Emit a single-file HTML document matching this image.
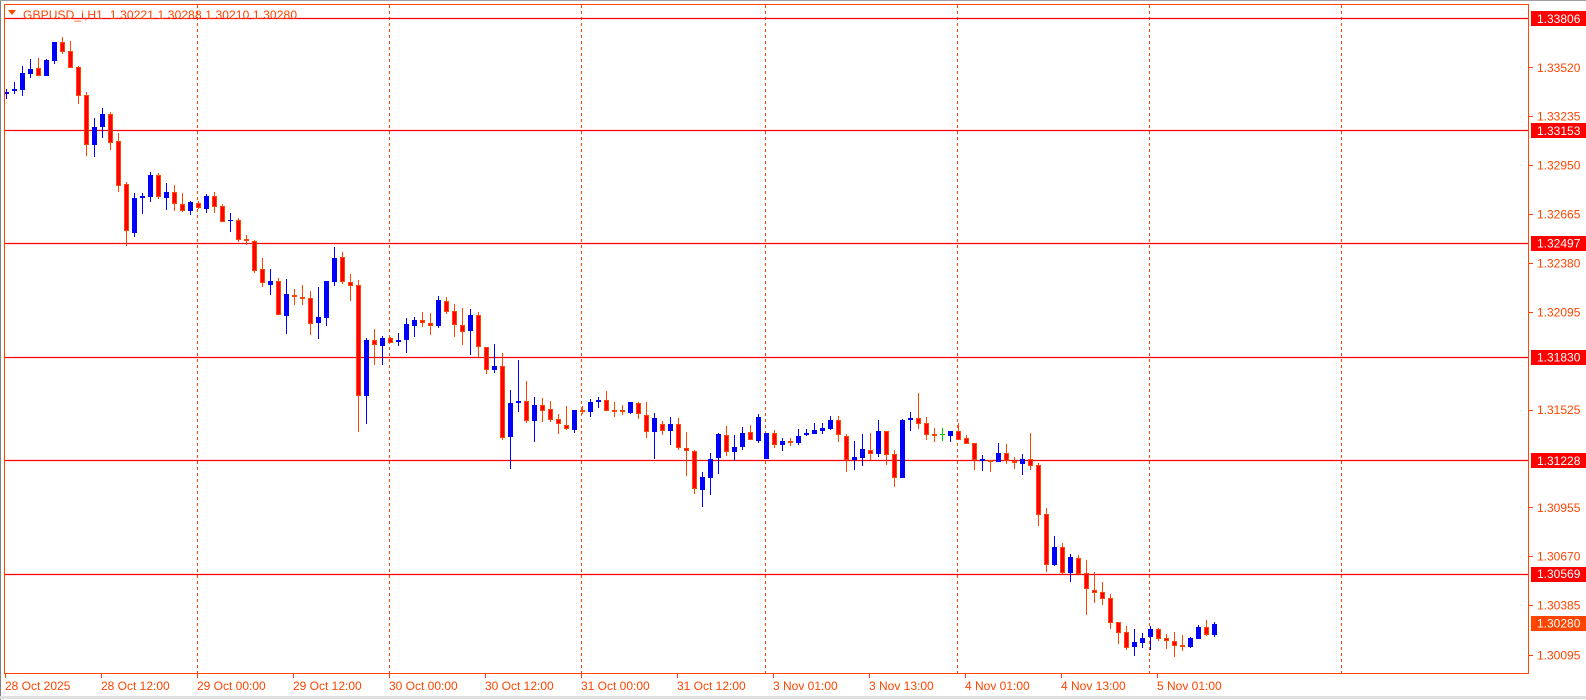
<!DOCTYPE html>
<html><head><meta charset="utf-8">
<style>
html,body{margin:0;padding:0;background:#fff;}
body{width:1586px;height:700px;overflow:hidden;position:relative;font-family:"Liberation Sans",sans-serif;}
svg{position:absolute;left:0;top:0;}
</style></head><body>
<svg id="c" width="1586" height="700" xmlns="http://www.w3.org/2000/svg" font-family="Liberation Sans, sans-serif" font-size="12">
<rect x="0" y="0" width="1586" height="700" fill="#fff"/>
<line x1="0.5" y1="0" x2="0.5" y2="700" stroke="#808080"/>
<line x1="0" y1="697.5" x2="1586" y2="697.5" stroke="#e0e0e0" stroke-width="3"/>
<line x1="0" y1="0.5" x2="1586" y2="0.5" stroke="#a0a0a0"/>
<g id="grid" stroke="#FF4500" stroke-dasharray="3,3" stroke-width="1"></g>
<g id="hl" stroke="#FF0000" stroke-width="1.3"></g>
<g id="cd"></g>
<rect x="4.5" y="4.5" width="1524" height="669" fill="none" stroke="#FF4500" stroke-width="1"/>
<g id="ax" fill="#FF4500"></g>
<polygon points="8,10 16,10 12,15" fill="#FF4500"/>
<text x="23" y="19" fill="#FF4500" font-size="12" textLength="274" style="white-space:pre">GBPUSD_i,H1  1.30221 1.30288 1.30210 1.30280</text>
</svg>
<script>
var NS="http://www.w3.org/2000/svg";
function el(p,t,a,txt){var e=document.createElementNS(NS,t);for(var k in a)e.setAttribute(k,a[k]);if(txt!==undefined)e.textContent=txt;document.getElementById(p).appendChild(e);return e;}
[197,389,581,765,957,1149,1341].forEach(function(x){el('grid','line',{x1:x+.5,y1:5,x2:x+.5,y2:673});});
function Y(p){return 18.3+(1.33806-p)*17152;}
[1.33806,1.33153,1.32497,1.31830,1.31228,1.30569].forEach(function(p){var y=Math.round(Y(p))+.5;el('hl','line',{x1:5,y1:y,x2:1529,y2:y});});
var D=[
['b',92,94,89,99],['b',89,91,82,94],['b',73,90,66,96],['b',69,74,59,78],['r',68,76,58,76],['b',60,76,59,76],['b',42,61,42,64],['r',42,52,37,54],['r',51,68,41,68],['r',67,96,66,104],
['r',95,145,92,156],['b',127,145,118,157],['b',114,127,108,138],['r',114,143,112,150],['r',141,186,133,192],['r',184,231,182,246],['b',198,233,193,237],['b',196,198,193,214],['b',175,197,172,202],['r',175,197,173,199],
['b',192,198,183,210],['r',192,204,185,211],['r',204,211,193,212],['b',202,211,201,215],['r',203,208,201,209],['b',196,209,194,213],['r',196,207,192,213],['r',206,222,204,222],['b',220,221,213,232],['r',220,240,218,242],
['r',239,241,235,245],['r',241,271,240,273],['r',269,283,258,287],['b',281,285,269,295],['r',281,315,278,315],['b',294,316,279,334],['r',295,297,289,305],['r',297,298,285,305],['r',298,324,291,335],['b',317,323,287,339],
['b',281,318,281,326],['b',258,282,247,286],['r',257,282,252,284],['r',282,286,274,301],['r',285,396,280,432],['b',340,396,338,424],['r',340,345,329,365],['b',338,346,336,365],['r',338,343,337,343],['b',340,342,333,346],
['b',324,340,318,353],['b',320,326,317,337],['r',320,323,312,327],['r',323,326,313,335],['b',300,326,296,328],['r',301,312,297,314],['r',311,325,304,337],['r',325,332,308,345],['b',315,331,309,355],['r',315,347,312,357],
['r',347,370,347,374],['b',366,370,344,373],['r',366,438,353,440],['b',403,437,390,469],['b',401,403,360,412],['r',401,421,381,423],['b',405,421,397,442],['r',405,411,398,422],['r',409,420,401,422],['r',419,424,414,434],
['r',425,429,406,430],['b',410,430,410,433],['r',410,411,406,414],['b',402,412,399,417],['b',400,402,397,408],['r',400,411,391,411],['r',410,412,402,417],['r',410,412,405,415],['b',402,413,402,414],['r',403,414,402,419],
['r',415,432,402,438],['b',418,432,413,459],['r',424,431,421,435],['b',424,431,417,445],['r',424,448,418,450],['r',448,451,432,476],['r',451,489,450,494],['b',477,490,472,507],['b',459,478,453,495],['b',434,458,433,474],
['r',435,452,426,456],['b',447,452,435,461],['b',433,447,427,450],['r',432,440,425,440],['b',417,441,414,443],['b',433,459,433,459],['r',433,445,430,448],['b',441,445,438,451],['r',441,442,438,446],['b',436,443,429,445],
['b',433,435,429,436],['b',430,434,423,434],['b',428,431,423,434],['b',420,429,416,430],['r',420,435,416,442],['r',436,460,434,472],['b',457,460,441,470],['b',449,458,434,466],['r',450,454,433,460],['b',431,454,420,457],
['r',431,455,431,465],['r',454,478,450,487],['b',420,478,419,478],['b',418,420,412,431],['r',418,424,393,429],['r',423,435,417,440],['r',434,435,428,442],['g',434,434,428,441],['b',431,436,431,442],['r',431,440,423,440],
['r',438,444,435,444],['r',443,460,443,470],['b',459,461,455,471],['r',460,462,460,472],['b',453,462,443,462],['r',453,461,444,464],['r',461,463,457,469],['b',459,464,454,475],['r',459,466,433,470],['r',465,515,463,526],
['r',514,565,508,572],['b',547,565,536,566],['r',547,573,543,574],['b',557,573,554,582],['r',558,574,555,574],['r',573,589,560,615],['r',590,593,572,603],['r',592,599,582,605],['r',598,623,594,629],['r',622,633,622,644],
['r',632,648,626,650],['b',642,647,629,656],['b',638,643,633,648],['b',629,637,626,650],['r',629,639,628,641],['r',638,641,634,649],['r',641,646,632,657],['r',645,647,635,651],['b',638,647,637,648],['b',627,639,625,639],
['r',627,635,620,636],['b',624,635,622,637]
];
D.forEach(function(d,i){
 var x=Math.round(5.7+8*i), t=d[0];
 var wc=t=='b'?'#0000FF':(t=='g'?'#00CC00':'#FF4500');
 el('cd','line',{x1:x+.5,y1:d[3],x2:x+.5,y2:d[4],stroke:wc,'stroke-width':1});
 var h=Math.max(d[2]-d[1],1);
 if(t=='b') el('cd','rect',{x:x-2,y:d[1],width:5,height:h,fill:'#0000FF'});
 else if(t=='g') el('cd','line',{x1:x-2,y1:d[1]+.5,x2:x+3,y2:d[1]+.5,stroke:'#00CC00'});
 else el('cd','rect',{x:x-1.5,y:d[1]+.5,width:4,height:Math.max(h-1,1),fill:'#FF0000',stroke:'#FF4500','stroke-width':1});
});
[1.33520,1.33235,1.32950,1.32665,1.32380,1.32095,1.31525,1.30955,1.30670,1.30385,1.30095].forEach(function(p){
 var y=Y(p);el('ax','line',{x1:1529,y1:Math.round(y)+.5,x2:1533,y2:Math.round(y)+.5,stroke:'#FF4500'});
 el('ax','text',{x:1537,y:y+4.5},p.toFixed(5));
});
[[1.33806,'#FF0000'],[1.33153,'#FF0000'],[1.32497,'#FF0000'],[1.31830,'#FF0000'],[1.31228,'#FF0000'],[1.30569,'#FF0000'],[1.30280,'#FF4500']].forEach(function(a){
 var y=Y(a[0]);el('ax','rect',{x:1531,y:Math.round(y)-7,width:55,height:15,fill:a[1]});
 el('ax','text',{x:1537,y:y+4.5,fill:'#fff'},a[0].toFixed(5));
});
var T=[[5,'28 Oct 2025'],[101,'28 Oct 12:00'],[197,'29 Oct 00:00'],[293,'29 Oct 12:00'],[389,'30 Oct 00:00'],[485,'30 Oct 12:00'],[581,'31 Oct 00:00'],[677,'31 Oct 12:00'],[773,'3 Nov 01:00'],[869,'3 Nov 13:00'],[965,'4 Nov 01:00'],[1061,'4 Nov 13:00'],[1157,'5 Nov 01:00']];
T.forEach(function(t){el('ax','line',{x1:t[0]+.5,y1:674,x2:t[0]+.5,y2:678,stroke:'#FF4500'});el('ax','text',{x:t[0],y:690},t[1]);});
</script>
</body></html>
